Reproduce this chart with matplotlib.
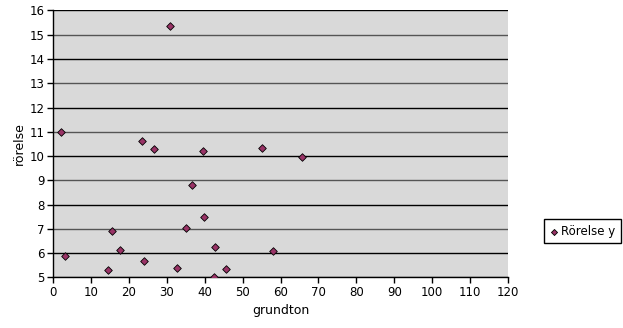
import matplotlib
matplotlib.use("Agg")
import matplotlib.pyplot as plt

# grundton vs rörelse y
grundton = [2.2, 3.1, 14.5, 15.6, 17.6, 23.6, 24.0, 26.7, 30.9, 32.6,
            35.0, 36.6, 39.6, 39.9, 42.5, 42.8, 45.5, 55.2, 58.0, 65.7]
rorelse_y = [10.97, 5.88, 5.31, 6.92, 6.12, 10.63, 5.66, 10.27, 15.37, 5.38,
             7.03, 8.79, 10.22, 7.47, 5.01, 6.24, 5.34, 10.34, 6.10, 9.98]

x_ticks = list(range(0, 121, 10))
y_ticks = list(range(5, 17))

plt.rcParams["font.family"] = ["DejaVu Sans"]

fig = plt.figure(figsize=(6.23, 3.28), dpi=100)
ax = fig.add_axes([0.0851, 0.1546, 0.7303, 0.8134])
ax.set_facecolor("#d9d9d9")

for y in y_ticks:
    ax.axhline(y, color="#000000" if y % 2 == 0 else "#555555", lw=1.0, zorder=1)

ax.scatter(grundton, rorelse_y, marker="D", s=15, color="#993366",
           edgecolors="black", linewidths=0.6, zorder=3, label="Rörelse y")

ax.set_xlim(0, 120)
ax.set_ylim(5, 16)
ax.set_xticks(x_ticks)
ax.set_yticks(y_ticks)
ax.tick_params(labelsize=8.5, length=4, width=1, direction="out", pad=2)

for side in ("top", "right"):
    ax.spines[side].set_visible(False)
for side in ("left", "bottom"):
    ax.spines[side].set_color("black")
    ax.spines[side].set_linewidth(1)

ax.set_xlabel("grundton", fontsize=9, labelpad=4)
ax.set_ylabel("rörelse", fontsize=9, labelpad=3)

fig.legend(loc="center right", bbox_to_anchor=(0.996, 0.295), fontsize=8.5,
           frameon=True, fancybox=False, edgecolor="black", framealpha=1,
           handletextpad=0.2, borderpad=0.45, borderaxespad=0,
           handlelength=0.8, markerscale=0.8)

fig.savefig("out.png", dpi=100)
